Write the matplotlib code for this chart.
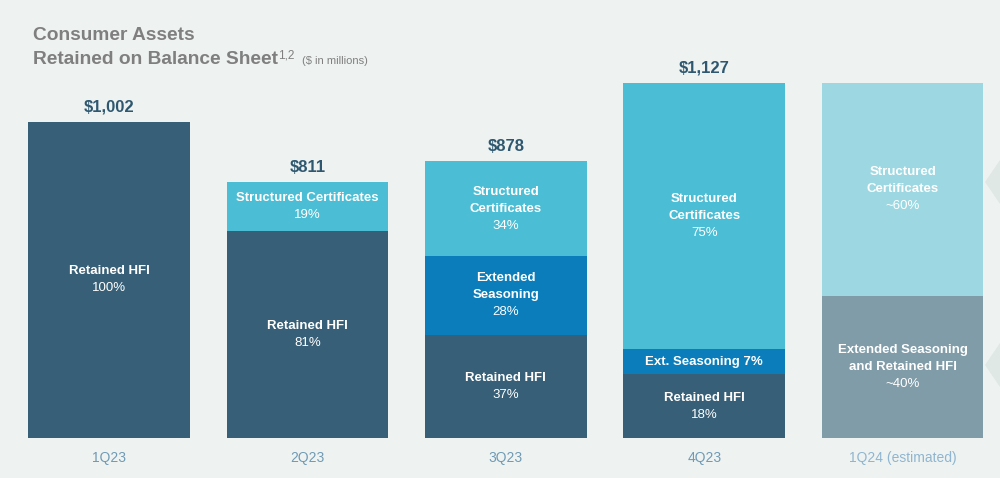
import matplotlib.pyplot as plt
from matplotlib.patches import Polygon
import numpy as np

plt.rcParams['font.family'] = ['Liberation Sans', 'DejaVu Sans']

quarters = ['1Q23', '2Q23', '3Q23', '4Q23', '1Q24 (estimated)']
totals = [1002, 811, 878, 1127, 1127]
total_labels = ['$1,002', '$811', '$878', '$1,127', '']

# segment shares (%), bottom to top
retained_pct = [100, 81, 37, 18, 0]
ext_pct = [0, 0, 28, 7, 0]
combined_pct = [0, 0, 0, 0, 40]
struct_pct = [0, 19, 34, 75, 60]

retained_txt = [('Retained HFI', '100%'), ('Retained HFI', '81%'), ('Retained HFI', '37%'),
                ('Retained HFI', '18%'), None]
ext_txt = [None, None, ('Extended\nSeasoning', '28%'), ('Ext. Seasoning 7%', ''), None]
combined_txt = [None, None, None, None, ('Extended Seasoning\nand Retained HFI', '~40%')]
struct_txt = [None, ('Structured Certificates', '19%'), ('Structured\nCertificates', '34%'),
              ('Structured\nCertificates', '75%'), ('Structured\nCertificates', '~60%')]

bg = '#eef3f1'
c_ret = '#375f77'
c_ext = '#0a7dba'
c_struct = '#4bbdd4'
c_struct_est = '#9dd8e2'
c_comb = '#809ca8'

fig = plt.figure(figsize=(10, 4.78), dpi=100, facecolor=bg)
ax = fig.add_axes([0, 40 / 478, 1, 438 / 478])
ax.set_facecolor(bg)
px = 0.3154  # pixels per $M
ax.set_ylim(0, 438 / px)
ax.set_xlim(-109 / 198.4, (1000 - 109) / 198.4)
for s in ax.spines.values():
    s.set_visible(False)
ax.set_xticks([])
ax.set_yticks([])

x = np.arange(len(quarters))
w = 0.815
series = [
    (retained_pct, [c_ret] * 5, retained_txt),
    (ext_pct, [c_ext] * 5, ext_txt),
    (combined_pct, [c_comb] * 5, combined_txt),
    (struct_pct, [c_struct] * 4 + [c_struct_est], struct_txt),
]
sums = [sum(v[i] for v, _, _ in series) for i in range(5)]
bottom = np.zeros(5)
for pct, cols, txt in series:
    h = np.array([totals[i] * pct[i] / sums[i] for i in range(5)])
    ax.bar(x, h, w, bottom=bottom, color=cols, edgecolor='none')
    for i in range(5):
        if txt[i] is None or h[i] == 0:
            continue
        name, val = txt[i]
        mid = bottom[i] + h[i] / 2
        label = name + ('\n' + val if val else '')
        lines = label.split('\n')
        nlines = len(lines)
        step = 17 / px
        y0 = mid + (nlines - 1) * step / 2
        for k, ln in enumerate(lines):
            bold = not (val and k == nlines - 1)
            ax.text(x[i], y0 - k * step, ln, ha='center', va='center', color='white',
                    fontsize=9.5, fontweight='bold' if bold else 'normal')
    bottom += h

for i in range(5):
    if total_labels[i]:
        ax.text(x[i], totals[i] + 15 / px, total_labels[i], ha='center', va='center',
                fontsize=12, fontweight='bold', color='#2f5870')
    ax.text(x[i], -20 / px, quarters[i], ha='center', va='center', fontsize=10,
            color='#8fb5d0' if i == 4 else '#6f9ab5', clip_on=False)

# title
grey = '#7f7f7f'
fig.text(33 / 1000, 1 - 40 / 478, 'Consumer Assets', fontsize=13.8, fontweight='bold',
         color=grey, va='baseline')
fig.text(33 / 1000, 1 - 64 / 478, 'Retained on Balance Sheet', fontsize=13.8,
         fontweight='bold', color=grey, va='baseline')
fig.text(278 / 1000, 1 - 58 / 478, '1,2', fontsize=8.5, color=grey, va='baseline')
fig.text(302 / 1000, 1 - 64 / 478, '($ in millions)', fontsize=8, color=grey, va='baseline')

# decorative chevrons at right edge
for yc in (182, 365):
    tri = Polygon([[985 / 1000, 1 - yc / 478], [1.0, 1 - (yc - 22) / 478],
                   [1.0, 1 - (yc + 22) / 478]], closed=True, transform=fig.transFigure,
                  facecolor='#dfe8e5', edgecolor='none')
    fig.patches.append(tri)

fig.savefig('out.png', dpi=100, facecolor=bg)
